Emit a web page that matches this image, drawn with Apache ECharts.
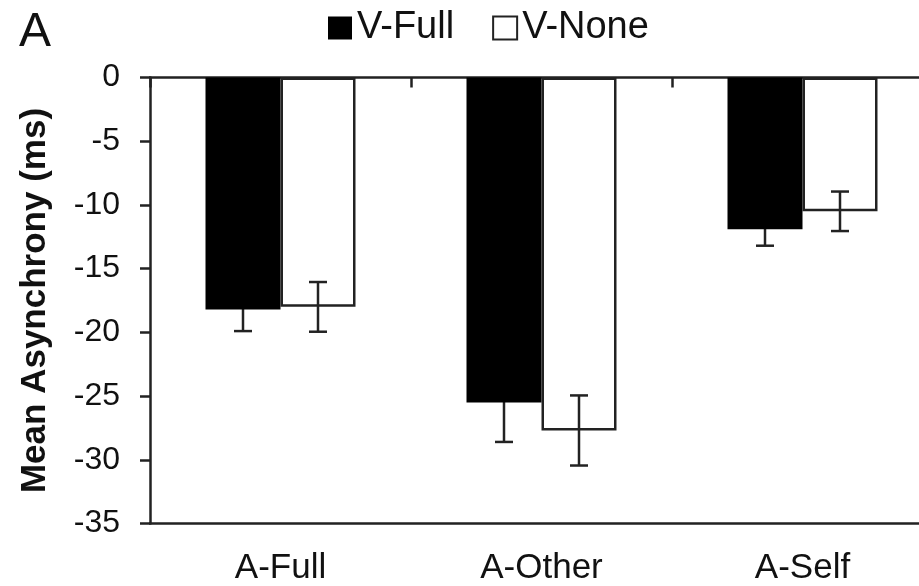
<!DOCTYPE html>
<html>
<head>
<meta charset="utf-8">
<script src="https://cdn.jsdelivr.net/npm/echarts@6/dist/echarts.min.js"></script>
<style>
html,body{margin:0;padding:0;background:#fff;overflow:hidden;width:919px;height:586px;}
#chart{width:933px;height:586px;}
</style>
</head>
<body>
<div id="chart"></div>
<script>
var categories = ['A-Full', 'A-Other', 'A-Self'];
var vFull = [-18.2, -25.5, -11.9];
var vFullErr = [1.7, 3.1, 1.3];
var vNone = [-18.0, -27.7, -10.5];
var vNoneErr = [1.95, 2.75, 1.55];
var yTicks = [0, -5, -10, -15, -20, -25, -30, -35];

var FONT = '"Liberation Sans", Arial, sans-serif';
var chart = echarts.init(document.getElementById('chart'));

function errRenderer(values, errs, side) {
  return function (params, api) {
    var i = api.value(0);
    var v = values[i], e = errs[i];
    var band = api.size([1, 0])[0];
    var off = side * band * 75 / 522;
    var top = api.coord([i, v + e]);
    var bot = api.coord([i, v - e]);
    var x = top[0] + off;
    var cap = 9;
    var st = {stroke: '#222', lineWidth: 2.5, fill: null};
    return {
      type: 'group',
      children: [
        {type: 'line', shape: {x1: x, y1: top[1], x2: x, y2: bot[1]}, style: st},
        {type: 'line', shape: {x1: x - cap, y1: top[1], x2: x + cap, y2: top[1]}, style: st},
        {type: 'line', shape: {x1: x - cap, y1: bot[1], x2: x + cap, y2: bot[1]}, style: st}
      ]
    };
  };
}

var option = {
  backgroundColor: '#fff',
  animation: false,
  title: {
    text: 'A', left: 14, top: 4,
    textStyle: {fontFamily: FONT, fontSize: 48, fontWeight: 'normal', color: '#111'}
  },
  legend: {
    left: 328, top: 9, padding: 0,
    itemWidth: 24, itemHeight: 23, itemGap: 38,
    textStyle: {fontFamily: FONT, fontSize: 38, color: '#111'},
    data: [
      {name: 'V-Full', icon: 'rect', itemStyle: {color: '#000', borderWidth: 0}},
      {name: 'V-None', icon: 'rect', itemStyle: {color: '#fff', borderColor: '#222', borderWidth: 2}}
    ]
  },
  grid: {left: 150, top: 77.5, height: 446, right: 0, containLabel: false},
  xAxis: [
    {
      type: 'category', data: categories, position: 'top',
      axisLine: {onZero: false, lineStyle: {color: '#222', width: 2.5}},
      axisTick: {show: true, inside: true, length: 10, alignWithLabel: false, lineStyle: {color: '#222', width: 2.5}},
      axisLabel: {show: false},
      splitLine: {show: false}
    },
    {
      type: 'category', data: categories, position: 'bottom',
      axisLine: {onZero: false, lineStyle: {color: '#222', width: 2.5}},
      axisTick: {show: false},
      axisLabel: {show: true, margin: 27, fontFamily: FONT, fontSize: 35, color: '#111'},
      splitLine: {show: false}
    }
  ],
  yAxis: {
    type: 'value', min: -35, max: 0, interval: 5,
    name: 'Mean Asynchrony (ms)', nameLocation: 'middle', nameGap: 97, nameRotate: 90,
    nameTextStyle: {fontFamily: FONT, fontSize: 35, fontWeight: 'bold', color: '#111'},
    axisLine: {show: true, onZero: false, lineStyle: {color: '#222', width: 2.5}},
    axisTick: {show: true, inside: false, length: 10, lineStyle: {color: '#222', width: 2.5}},
    axisLabel: {margin: 30, fontFamily: FONT, fontSize: 32, color: '#111',
      customValues: yTicks},
    splitLine: {show: false}
  },
  series: [
    {
      name: 'V-Full', type: 'bar', xAxisIndex: 0, data: vFull,
      barWidth: 75, barGap: '0%', z: 2,
      itemStyle: {color: '#000', borderColor: '#000', borderWidth: 0}
    },
    {
      name: 'V-None', type: 'bar', xAxisIndex: 0, data: vNone,
      barWidth: 75, barGap: '0%', z: 2,
      itemStyle: {color: '#fff', borderColor: '#222', borderWidth: 2.5}
    },
    {
      name: 'errFull', type: 'custom', xAxisIndex: 0, z: 1,
      renderItem: errRenderer(vFull, vFullErr, -1),
      data: categories.map(function (c, i) { return [i, vFull[i]]; }),
      silent: true
    },
    {
      name: 'errNone', type: 'custom', xAxisIndex: 0, z: 3,
      renderItem: errRenderer(vNone, vNoneErr, 1),
      data: categories.map(function (c, i) { return [i, vNone[i]]; }),
      silent: true
    }
  ]
};
chart.setOption(option);
</script>
</body>
</html>
